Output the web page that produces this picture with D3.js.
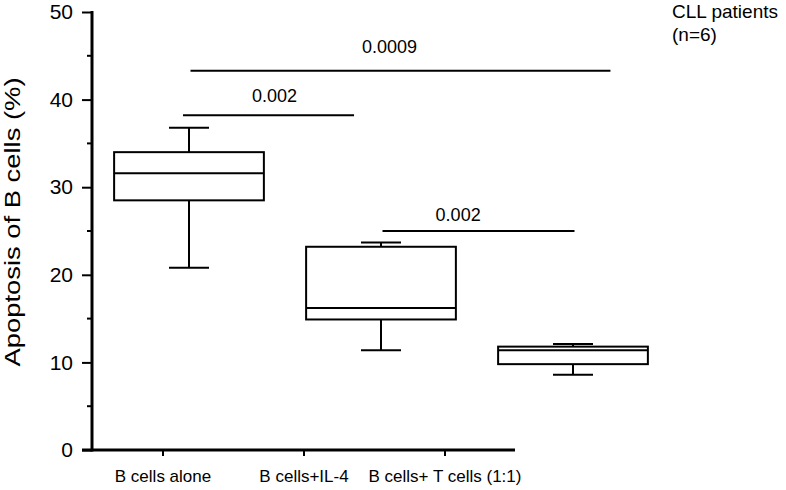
<!DOCTYPE html>
<html>
<head>
<meta charset="utf-8">
<script src="https://cdn.jsdelivr.net/npm/d3@7"></script>
<style>
  body { margin: 0; background: #fff; }
  text { font-family: "Liberation Sans", Arial, Helvetica, sans-serif; fill: #000; }
</style>
</head>
<body>
<div id="chart"></div>
<script>
// Box plot values (% apoptosis)
const categories = ["B cells alone", "B cells+IL-4", "B cells+ T cells (1:1)"];
const whiskerLow = [20.8, 11.4, 8.6];
const q1 = [28.5, 14.9, 9.8];
const median = [31.6, 16.2, 11.4];
const q3 = [34.0, 23.2, 11.8];
const whiskerHigh = [36.8, 23.7, 12.1];

// significance bars: from/to category index, relative position inside the box, height, p-value
const pFrom = [0, 0, 1];
const pFromFrac = [0.46, 0.51, 0.51];
const pTo = [1, 2, 2];
const pToFrac = [0.32, 0.75, 0.51];
const pLevel = [38.2, 43.3, 25.0];
const pLabels = ["0.002", "0.0009", "0.002"];

const yTicks = [0, 10, 20, 30, 40, 50];

// label placement along each bar (layout only)
const pTextAlong = [0.535, 0.474, 0.394];
const pTextGap = [13, 18, 10];

const width = 786, height = 490;
const svg = d3.select("#chart").append("svg")
    .attr("width", width)
    .attr("height", height);

const y = d3.scaleLinear().domain([0, 50]).range([450, 12]);

// axis categories (ticks) and box positions are offset in the original figure
const xTick = d3.scalePoint().domain(categories).range([92, 515]).padding(0.5);
const xBox = d3.scaleBand().domain(categories).range([93, 669])
    .paddingInner(0.22).paddingOuter(0.11);

// Y axis
const yAxis = svg.append("g").attr("transform", "translate(92,0)");
yAxis.call(d3.axisLeft(y).tickValues(yTicks).tickSize(10).tickPadding(9).tickFormat(d3.format("d")));
yAxis.select(".domain").remove();
yAxis.selectAll(".tick line").attr("stroke-width", 2);
yAxis.selectAll(".tick text").style("font-size", "21px").style("font-family", "Liberation Sans, Arial, sans-serif");

// minor ticks
yAxis.selectAll(".minor")
    .data([5, 15, 25, 35, 45])
    .enter()
    .append("line")
    .attr("x1", -5).attr("x2", 0)
    .attr("y1", d => y(d)).attr("y2", d => y(d))
    .attr("stroke", "#000").attr("stroke-width", 2);

svg.append("line")
    .attr("x1", 92).attr("x2", 92)
    .attr("y1", y(50) - 1).attr("y2", y(0) + 1.5)
    .attr("stroke", "#000").attr("stroke-width", 3);

// X axis
const xAxis = svg.append("g").attr("transform", `translate(0,${y(0)})`);
xAxis.call(d3.axisBottom(xTick).tickSize(6).tickPadding(14));
xAxis.select(".domain").remove();
xAxis.selectAll(".tick line").attr("stroke-width", 2);
xAxis.selectAll(".tick text").style("font-size", "17px").style("font-family", "Liberation Sans, Arial, sans-serif");

svg.append("line")
    .attr("x1", 82).attr("x2", 515)
    .attr("y1", y(0)).attr("y2", y(0))
    .attr("stroke", "#000").attr("stroke-width", 3);

// Y label
svg.append("text")
    .attr("transform", `translate(20,222) rotate(-90)`)
    .attr("text-anchor", "middle")
    .attr("textLength", 289)
    .attr("lengthAdjust", "spacingAndGlyphs")
    .style("font-size", "22px")
    .text("Apoptosis of B cells (%)");

// Boxes
const bw = xBox.bandwidth();
const capW = 40;
const boxes = svg.append("g");
categories.forEach((c, i) => {
    const cx = xBox(c) + bw / 2;
    const g = boxes.append("g").attr("stroke", "#000").attr("stroke-width", 2).attr("fill", "none");
    g.append("line").attr("x1", cx).attr("x2", cx).attr("y1", y(q3[i])).attr("y2", y(whiskerHigh[i]));
    g.append("line").attr("x1", cx).attr("x2", cx).attr("y1", y(q1[i])).attr("y2", y(whiskerLow[i]));
    g.append("line").attr("x1", cx - capW / 2).attr("x2", cx + capW / 2)
        .attr("y1", y(whiskerHigh[i])).attr("y2", y(whiskerHigh[i]));
    g.append("line").attr("x1", cx - capW / 2).attr("x2", cx + capW / 2)
        .attr("y1", y(whiskerLow[i])).attr("y2", y(whiskerLow[i]));
    g.append("rect")
        .attr("x", xBox(c)).attr("width", bw)
        .attr("y", y(q3[i])).attr("height", y(q1[i]) - y(q3[i]))
        .attr("fill", "#fff");
    g.append("line").attr("x1", xBox(c)).attr("x2", xBox(c) + bw)
        .attr("y1", y(median[i])).attr("y2", y(median[i]));
});

// significance lines
pLabels.forEach((p, i) => {
    const x1 = xBox(categories[pFrom[i]]) + pFromFrac[i] * bw;
    const x2 = xBox(categories[pTo[i]]) + pToFrac[i] * bw;
    svg.append("line")
        .attr("x1", x1).attr("x2", x2)
        .attr("y1", y(pLevel[i])).attr("y2", y(pLevel[i]))
        .attr("stroke", "#000").attr("stroke-width", 2);
    svg.append("text")
        .attr("x", x1 + (x2 - x1) * pTextAlong[i])
        .attr("y", y(pLevel[i]) - pTextGap[i])
        .attr("text-anchor", "middle")
        .style("font-size", "18px")
        .text(p);
});

// note
svg.append("text").attr("x", 672).attr("y", 18).style("font-size", "19px").text("CLL patients");
svg.append("text").attr("x", 672).attr("y", 41).style("font-size", "19px").text("(n=6)");
</script>
</body>
</html>
